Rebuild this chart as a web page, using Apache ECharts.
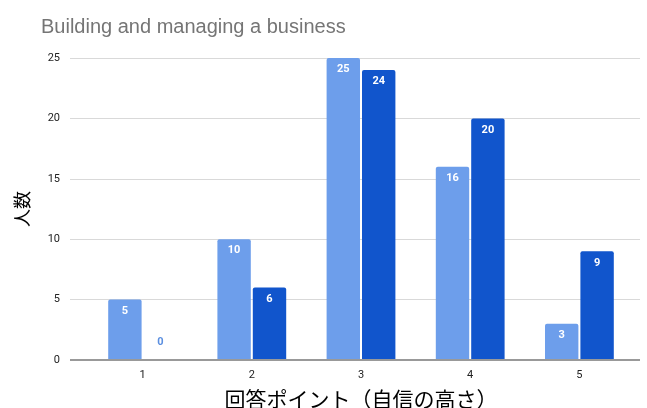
<!DOCTYPE html>
<html>
<head>
<meta charset="utf-8">
<script src="https://cdn.jsdelivr.net/npm/echarts@6/dist/echarts.min.js"></script>
<style>
  html, body { margin: 0; padding: 0; background: #fff; }
  #chart { width: 647px; height: 408px; }
</style>
</head>
<body>
<div id="chart"></div>
<script>
// 回答ポイント
var categories = ['1', '2', '3', '4', '5'];
var seriesA = [5, 10, 25, 16, 3];
var seriesB = [0, 6, 24, 20, 9];
var yTicks = [0, 5, 10, 15, 20, 25];

var lightBlue = '#6d9eeb';
var darkBlue = '#1155cc';

var chart = echarts.init(document.getElementById('chart'));

function barData(values) {
  return values.map(function (v) {
    if (v === 0) {
      // zero bar: label sits above the axis in blue
      return { value: v, label: { position: 'top', color: '#5b8fe0', distance: 12 } };
    }
    return v;
  });
}

var labelStyle = {
  show: true,
  position: 'insideTop',
  distance: 6,
  color: '#fff',
  fontSize: 11,
  fontWeight: 'bold',
  fontFamily: 'Roboto, Arial, sans-serif'
};

chart.setOption({
  animation: false,
  title: {
    text: 'Building and managing a business',
    left: 36,
    top: 12,
    textStyle: { color: '#757575', fontSize: 20, fontWeight: 'normal', fontFamily: 'Liberation Sans, Arial, sans-serif' }
  },
  grid: [
    // wide grid: only gridlines + y labels
    { left: 70, right: 7, top: 58, bottom: 48, outerBoundsMode: 'none' },
    // bars grid
    { left: 88, right: 13, top: 58, bottom: 48, outerBoundsMode: 'none' }
  ],
  xAxis: [{
    gridIndex: 0,
    type: 'category',
    data: categories,
    show: false
  }, {
    gridIndex: 1,
    type: 'category',
    data: categories,
    axisLine: { show: false },
    axisTick: { show: false },
    axisLabel: { color: '#222', fontSize: 11, margin: 10, fontFamily: 'Roboto, Arial, sans-serif' },
    name: '回答ポイント（自信の高さ）',
    nameLocation: 'middle',
    nameGap: 29,
    nameTextStyle: { color: '#000', fontSize: 21, fontFamily: 'Noto Sans CJK JP' }
  }],
  yAxis: [{
    gridIndex: 0,
    type: 'value',
    min: 0,
    max: 25,
    interval: 5,
    axisLine: { show: false },
    axisTick: { show: false },
    axisLabel: { color: '#222', fontSize: 11, margin: 10, fontFamily: 'Roboto, Arial, sans-serif' },
    splitLine: { lineStyle: { color: '#d9d9d9', width: 1 } },
    name: '人数',
    nameLocation: 'middle',
    nameGap: 39,
    nameRotate: 90,
    nameTextStyle: { color: '#000', fontSize: 18, fontFamily: 'Noto Sans CJK JP' }
  }, {
    gridIndex: 1,
    type: 'value',
    min: 0,
    max: 25,
    interval: 5,
    show: false
  }],
  series: [{
    type: 'bar',
    xAxisIndex: 1,
    yAxisIndex: 1,
    data: barData(seriesA),
    barCategoryGap: '37%',
    barGap: '6%',
    itemStyle: { color: lightBlue, borderRadius: [2, 2, 0, 0] },
    label: labelStyle
  }, {
    type: 'bar',
    xAxisIndex: 1,
    yAxisIndex: 1,
    data: barData(seriesB),
    barCategoryGap: '37%',
    barGap: '6%',
    itemStyle: { color: darkBlue, borderRadius: [2, 2, 0, 0] },
    label: labelStyle
  }, {
    // baseline at zero
    type: 'line',
    xAxisIndex: 0,
    yAxisIndex: 0,
    data: [],
    markLine: {
      silent: true,
      symbol: 'none',
      label: { show: false },
      lineStyle: { color: '#999', width: 2, type: 'solid' },
      data: [{ yAxis: 0 }]
    }
  }]
});
</script>
</body>
</html>
